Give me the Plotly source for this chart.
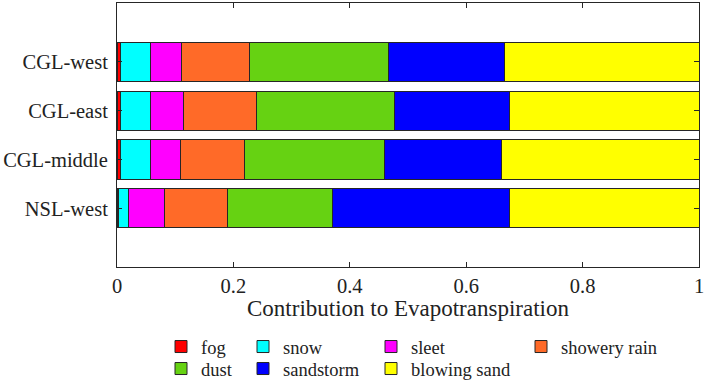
import plotly.graph_objects as go

# ---- data ----
regions = ["CGL-west", "CGL-east", "CGL-middle", "NSL-west"]
series_names = ["fog", "snow", "sleet", "showery rain", "dust", "sandstorm", "blowing sand"]
fog = [0.006, 0.006, 0.006, 0.002]
snow = [0.051, 0.052, 0.051, 0.018]
sleet = [0.054, 0.056, 0.052, 0.061]
showery_rain = [0.116, 0.125, 0.110, 0.109]
dust = [0.239, 0.237, 0.241, 0.181]
sandstorm = [0.200, 0.198, 0.201, 0.303]
blowing_sand = [0.334, 0.326, 0.339, 0.326]
x_tick_values = [0, 0.2, 0.4, 0.6, 0.8, 1]
x_tick_labels = ["0", "0.2", "0.4", "0.6", "0.8", "1"]
x_title = "Contribution to Evapotranspiration"

series_values = [fog, snow, sleet, showery_rain, dust, sandstorm, blowing_sand]
colors = ["#FF0000", "#00FFFF", "#FF00FF", "#FF6A28", "#66D212", "#0000FF", "#FFFF00"]

FONT = "Liberation Serif, Times New Roman, serif"
AX = "#262626"
TXT = "#222222"

# layout geometry (pixels)
W, H = 706, 382
L, R, T, B = 117, 7, 3, 115
legend_cols = [159, 241, 369, 519]
legend_rows = [347, 369]
legend_slots = [(0, 0), (1, 0), (2, 0), (3, 0), (0, 1), (1, 1), (2, 1)]
title_center_y = 308

fig = go.Figure()
layout_legends = {}
for i, (name, vals, col) in enumerate(zip(series_names, series_values, colors)):
    lname = "legend" if i == 0 else f"legend{i+1}"
    fig.add_trace(go.Bar(
        name=name, y=regions, x=vals, orientation="h",
        marker=dict(color=col, line=dict(color=AX, width=1)),
        legend=lname,
    ))
    c, r = legend_slots[i]
    layout_legends[lname] = dict(
        xref="container", yref="container",
        x=(legend_cols[c] + 2) / W,
        y=1 - legend_rows[r] / H,
        xanchor="left", yanchor="middle",
        bgcolor="rgba(0,0,0,0)", borderwidth=0,
        font=dict(family=FONT, size=18.5, color=TXT),
    )

fig.update_layout(
    width=W, height=H,
    margin=dict(l=L, r=R, t=T, b=B, autoexpand=False),
    barmode="stack", bargap=0.2,
    plot_bgcolor="white", paper_bgcolor="white",
    font=dict(family=FONT, size=20, color=TXT),
    showlegend=True,
    annotations=[dict(
        text=x_title, xref="paper", yref="paper",
        x=0.5, y=(H - B - title_center_y) / (H - T - B),
        xanchor="center", yanchor="middle", showarrow=False,
        font=dict(family=FONT, size=23, color=TXT),
    )],
    **layout_legends,
)
fig.update_xaxes(
    range=[0, 1], tickvals=x_tick_values, ticktext=x_tick_labels,
    ticks="inside", ticklen=5, tickcolor=AX, mirror="ticks",
    showline=True, linecolor=AX, linewidth=1, showgrid=False, zeroline=False,
    tickfont=dict(family=FONT, size=20.5, color=TXT),
    ticklabelstandoff=0, automargin=False,
)
fig.update_yaxes(
    categoryorder="array", categoryarray=list(reversed(regions)),
    range=[-1.2, 4.2],
    ticks="inside", ticklen=5, tickcolor=AX, mirror="ticks",
    showline=True, linecolor=AX, linewidth=1, showgrid=False, zeroline=False,
    tickfont=dict(family=FONT, size=20.5, color=TXT),
    ticklabelstandoff=4, automargin=False,
)
fig.write_html("out.html", config={"displayModeBar": False},
               post_script="document.body.style.margin='0';")
